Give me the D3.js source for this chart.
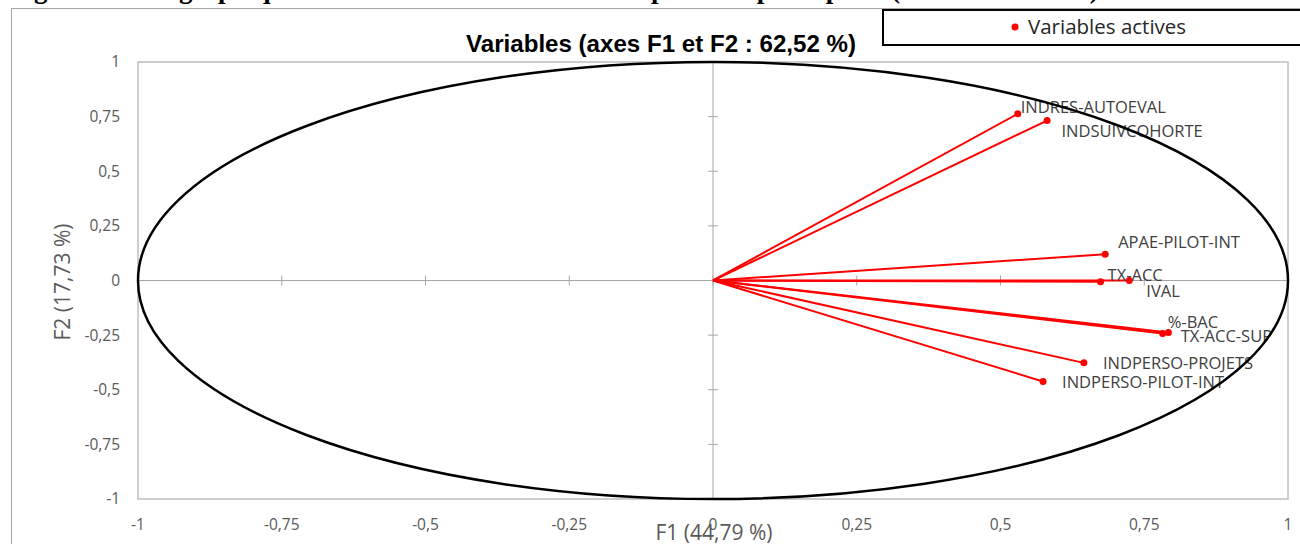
<!DOCTYPE html>
<html>
<head>
<meta charset="utf-8">
<script src="https://cdn.jsdelivr.net/npm/d3@7"></script>
<style>
  html, body { margin: 0; padding: 0; background: #fff; overflow: hidden; }
  svg { display: block; }
</style>
</head>
<body>
<svg id="chart" width="1300" height="544"></svg>
<script>
// ---- data ----
const varNames = ["INDRES-AUTOEVAL", "INDSUIVCOHORTE", "APAE-PILOT-INT", "TX-ACC", "IVAL",
                  "%-BAC", "TX-ACC-SUP", "INDPERSO-PROJETS", "INDPERSO-PILOT-INT"];
const f1Values = [0.530, 0.581, 0.682, 0.674, 0.724, 0.792, 0.782, 0.645, 0.574];
const f2Values = [0.763, 0.732, 0.120, -0.006, 0.000, -0.238, -0.243, -0.377, -0.462];
const tickValues = [-1, -0.75, -0.5, -0.25, 0, 0.25, 0.5, 0.75, 1];
const tickLabels = ["-1", "-0,75", "-0,5", "-0,25", "0", "0,25", "0,5", "0,75", "1"];
const chartTitle = "Variables (axes F1 et F2 : 62,52 %)";
const xAxisTitle = "F1 (44,79 %)";
const yAxisTitle = "F2 (17,73 %)";
const legendLabel = "Variables actives";
const captionText = "Figure 10 : Le graphique des variables sur les deux composantes principales (variables actives)";

// ---- layout (label placement offsets in px, not data) ----
const labelOffsets = [[3, -6.6], [14.4, 11], [13, -12], [7, -6.6], [17, 11],
                      [-0.7, -10.3], [18, 2.4], [19, 0.7], [19, 0.6]];

const svg = d3.select("#chart");
const x = d3.scaleLinear().domain([-1, 1]).range([138, 1288]);
const y = d3.scaleLinear().domain([-1, 1]).range([499, 62]);

const labelFont = "'Open Sans', 'Noto Sans', sans-serif";

// caption (cut off at top: only descenders show)
svg.append("text")
  .attr("x", 10).attr("y", -2)
  .attr("font-family", "'Liberation Serif', 'Times New Roman', serif")
  .attr("font-weight", "bold").attr("font-size", 27)
  .attr("fill", "#000")
  .text(captionText);

// outer chart frame
svg.append("rect")
  .attr("x", 11.5).attr("y", 8.5).attr("width", 1400).attr("height", 600)
  .attr("fill", "#fff").attr("stroke", "#a6a6a6").attr("stroke-width", 1);

// plot area border
svg.append("rect")
  .attr("x", x(-1)).attr("y", y(1))
  .attr("width", x(1) - x(-1)).attr("height", y(-1) - y(1))
  .attr("fill", "none").attr("stroke", "#bfbfbf").attr("stroke-width", 1.5);

// central axes
svg.append("line")
  .attr("x1", x(-1)).attr("x2", x(1)).attr("y1", y(0)).attr("y2", y(0))
  .attr("stroke", "#a6a6a6").attr("stroke-width", 1);
svg.append("line")
  .attr("x1", x(0)).attr("x2", x(0)).attr("y1", y(1)).attr("y2", y(-1))
  .attr("stroke", "#a6a6a6").attr("stroke-width", 1);

// tick marks on the central axes
svg.selectAll(".yt").data(tickValues).enter().append("line")
  .attr("x1", x(0) - 5).attr("x2", x(0) + 5)
  .attr("y1", d => y(d)).attr("y2", d => y(d))
  .attr("stroke", "#a6a6a6").attr("stroke-width", 1);
svg.selectAll(".xt").data(tickValues).enter().append("line")
  .attr("x1", d => x(d)).attr("x2", d => x(d))
  .attr("y1", y(0) - 5).attr("y2", y(0) + 5)
  .attr("stroke", "#a6a6a6").attr("stroke-width", 1);

// tick labels
svg.selectAll(".ytl").data(tickValues).enter().append("text")
  .attr("x", 120).attr("y", d => y(d))
  .attr("dy", "0.35em").attr("text-anchor", "end")
  .attr("font-family", labelFont).attr("font-size", 15.5).attr("fill", "#595959")
  .text((d, i) => tickLabels[i]);
svg.selectAll(".xtl").data(tickValues).enter().append("text")
  .attr("x", d => x(d)).attr("y", 525)
  .attr("dy", "0.35em").attr("text-anchor", "middle")
  .attr("font-family", labelFont).attr("font-size", 15.5).attr("fill", "#595959")
  .text((d, i) => tickLabels[i]);

// axis titles
svg.append("text")
  .attr("x", 714).attr("y", 533).attr("dy", "0.35em")
  .attr("text-anchor", "middle")
  .attr("font-family", labelFont).attr("font-size", 21).attr("fill", "#595959")
  .text(xAxisTitle);
svg.append("text")
  .attr("transform", "translate(63,282) rotate(-90)")
  .attr("dy", "0.35em").attr("text-anchor", "middle")
  .attr("font-family", labelFont).attr("font-size", 21).attr("fill", "#595959")
  .text(yAxisTitle);

// chart title
svg.append("text")
  .attr("x", 661).attr("y", 43).attr("dy", "0.35em")
  .attr("text-anchor", "middle")
  .attr("font-family", "'Liberation Sans', Arial, sans-serif")
  .attr("font-weight", "bold").attr("font-size", 24.5).attr("fill", "#000")
  .attr("textLength", 390).attr("lengthAdjust", "spacingAndGlyphs")
  .text(chartTitle);

// vectors
const pts = varNames.map((n, i) => ({ name: n, f1: f1Values[i], f2: f2Values[i], off: labelOffsets[i] }));
svg.selectAll(".vec").data(pts).enter().append("line")
  .attr("x1", x(0)).attr("y1", y(0))
  .attr("x2", d => x(d.f1)).attr("y2", d => y(d.f2))
  .attr("stroke", "#ff0000").attr("stroke-width", 2);
svg.selectAll(".dot").data(pts).enter().append("circle")
  .attr("cx", d => x(d.f1)).attr("cy", d => y(d.f2)).attr("r", 3.5)
  .attr("fill", "#ff0000");

// labels
svg.selectAll(".lbl").data(pts).enter().append("text")
  .attr("x", d => x(d.f1) + d.off[0]).attr("y", d => y(d.f2) + d.off[1])
  .attr("dy", "0.35em")
  .attr("font-family", labelFont).attr("font-size", 16.5).attr("fill", "#404040")
  .text(d => d.name);

// correlation circle
svg.append("ellipse")
  .attr("cx", x(0)).attr("cy", y(0))
  .attr("rx", x(1) - x(0)).attr("ry", y(0) - y(1))
  .attr("fill", "none").attr("stroke", "#000").attr("stroke-width", 2.5);

// legend
svg.append("rect")
  .attr("x", 883).attr("y", 10).attr("width", 440).attr("height", 35)
  .attr("fill", "#fff").attr("stroke", "#000").attr("stroke-width", 2);
svg.append("circle").attr("cx", 1015).attr("cy", 27).attr("r", 3.5).attr("fill", "#ff0000");
svg.append("text")
  .attr("x", 1028).attr("y", 27).attr("dy", "0.35em")
  .attr("font-family", labelFont).attr("font-size", 20.5).attr("fill", "#262626")
  .text(legendLabel);
</script>
</body>
</html>
